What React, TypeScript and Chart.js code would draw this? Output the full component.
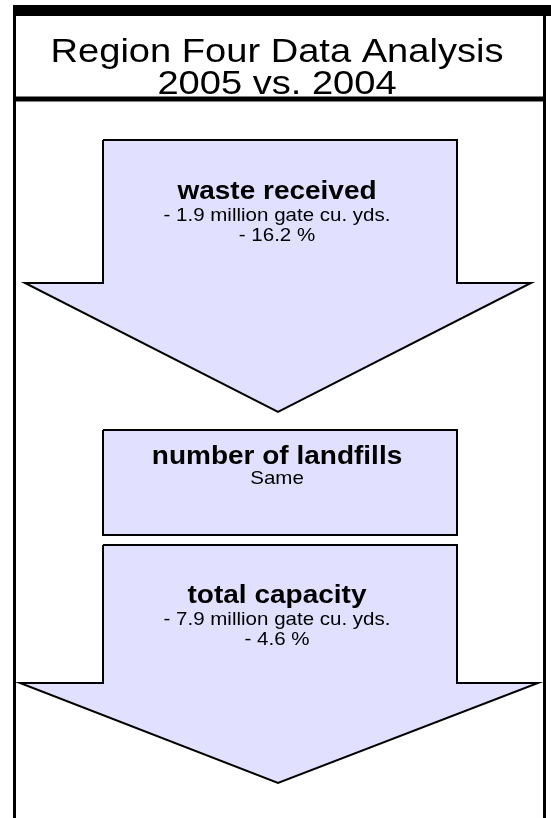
import React, { useEffect, useRef } from "react";
import { Chart, registerables } from "chart.js";

Chart.register(...registerables);

// ---- content ----
const titleLines = ["Region Four Data Analysis", "2005 vs. 2004"];
const panelHeadings = ["waste received", "number of landfills", "total capacity"];
const wasteDetails = ["- 1.9 million gate cu. yds.", "- 16.2 %"];
const landfillDetails = ["Same"];
const capacityDetails = ["- 7.9 million gate cu. yds.", "- 4.6 %"];

// ---- layout (pixel space of the 551 x 818 canvas) ----
const W = 551;
const H = 818;
const FILL = "#E1E1FF";
const FONT = "'Liberation Sans', Arial, sans-serif";

type P = { x: number; y: number };

function arrowShape(l: number, r: number, top: number, sh: number, wl: number, wr: number, tipX: number, tip: number): P[] {
  return [
    { x: l, y: top }, { x: r, y: top }, { x: r, y: sh }, { x: wr, y: sh },
    { x: tipX, y: tip }, { x: wl, y: sh }, { x: l, y: sh }, { x: l, y: top },
  ];
}
function boxShape(l: number, r: number, t: number, b: number): P[] {
  return [{ x: l, y: t }, { x: r, y: t }, { x: r, y: b }, { x: l, y: b }, { x: l, y: t }];
}

const arrow1 = arrowShape(103, 457, 140, 283, 25, 531, 278, 412);
const box2 = boxShape(103, 457, 430, 535);
const arrow3 = arrowShape(103, 457, 545, 683, 20, 538, 278, 783);

const textBlocks = [
  { lines: [panelHeadings[0], ...wasteDetails], y: [199, 221, 241] },
  { lines: [panelHeadings[1], ...landfillDetails], y: [464, 484] },
  { lines: [panelHeadings[2], ...capacityDetails], y: [603, 625, 645] },
];

function drawStretched(ctx: CanvasRenderingContext2D, s: string, px: number, py: number, font: string, sx: number) {
  ctx.save();
  ctx.translate(px, py);
  ctx.scale(sx, 1);
  ctx.font = font;
  ctx.textAlign = "center";
  ctx.textBaseline = "alphabetic";
  ctx.fillStyle = "#000";
  ctx.fillText(s, 0, 0);
  ctx.restore();
}

const textPlugin = {
  id: "diagramText",
  afterDatasetsDraw(chart: any) {
    const { ctx, scales } = chart;
    const xs = scales.x;
    const ys = scales.y;
    const cx = xs.getPixelForValue(277);
    drawStretched(ctx, titleLines[0], cx, ys.getPixelForValue(62), `34px ${FONT}`, 1.12);
    drawStretched(ctx, titleLines[1], cx, ys.getPixelForValue(94), `34px ${FONT}`, 1.12);
    textBlocks.forEach((b) => {
      b.lines.forEach((s, i) => {
        const bold = i === 0;
        const font = bold ? `bold 25px ${FONT}` : `19px ${FONT}`;
        drawStretched(ctx, s, cx, ys.getPixelForValue(b.y[i]), font, bold ? 1.12 : 1.08);
      });
    });
  },
};

function lineSet(data: P[], width: number) {
  return {
    type: "line" as const,
    data,
    borderColor: "#000",
    borderWidth: width,
    pointRadius: 0,
    fill: false,
    tension: 0,
    clip: false as const,
    borderCapStyle: "butt" as const,
  };
}
function shapeSet(data: P[]) {
  return {
    type: "line" as const,
    data,
    borderColor: "#000",
    borderWidth: 2,
    backgroundColor: FILL,
    pointRadius: 0,
    fill: "shape" as const,
    tension: 0,
    clip: false as const,
    borderJoinStyle: "miter" as const,
  };
}

export default function App() {
  const ref = useRef<HTMLCanvasElement | null>(null);
  useEffect(() => {
    if (!ref.current) return;
    const chart = new Chart(ref.current, {
      type: "scatter",
      data: {
        datasets: [
          shapeSet(arrow1),
          shapeSet(box2),
          shapeSet(arrow3),
          lineSet([{ x: 13, y: 10.5 }, { x: 551, y: 10.5 }], 11),
          lineSet([{ x: 14.5, y: 5 }, { x: 14.5, y: 818 }], 3),
          lineSet([{ x: 544.5, y: 5 }, { x: 544.5, y: 818 }], 3),
          lineSet([{ x: 13, y: 99 }, { x: 546, y: 99 }], 5),
        ] as any,
      },
      options: {
        animation: false,
        responsive: false,
        maintainAspectRatio: false,
        devicePixelRatio: 1,
        events: [],
        layout: { padding: 0 },
        showLine: true,
        scales: {
          x: { type: "linear", display: false, min: 0, max: W },
          y: { type: "linear", display: false, min: 0, max: H, reverse: true },
        },
        plugins: { legend: { display: false }, tooltip: { enabled: false }, title: { display: false } },
      } as any,
      plugins: [textPlugin],
    });
    return () => chart.destroy();
  }, []);
  return (
    <div style={{ position: "absolute", left: 0, top: 0, width: W, height: H, background: "#fff" }}>
      <canvas ref={ref} width={W} height={H} style={{ display: "block" }} />
    </div>
  );
}
